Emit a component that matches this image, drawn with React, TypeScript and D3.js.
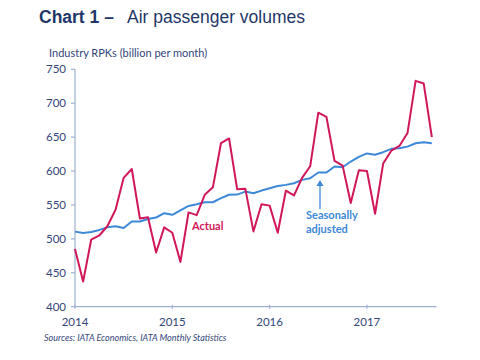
import React from "react";
import * as d3 from "d3";

const yearTicks = ["2014", "2015", "2016", "2017"];
const yTicks = [400, 450, 500, 550, 600, 650, 700, 750];

const actual = [
  485, 437, 499, 505, 519, 543, 590, 603, 530, 532, 480, 517,
  509, 466, 539, 535, 565, 576, 641, 648, 573, 574, 511, 551,
  549, 509, 571, 564, 590, 607, 686, 680, 615, 608, 553, 601,
  600, 537, 611, 630, 637, 656, 733, 729, 650,
];

const seasonallyAdjusted = [
  510.7, 508.7, 510, 513.2, 517, 518.6, 516, 525.5, 525.5, 529.4, 531.5, 537.8,
  535.5, 542, 548.6, 551, 554, 554, 560, 565, 565.3, 569.7, 567.3, 571.2,
  574.7, 578, 579.6, 582, 587, 589.4, 597.8, 597.8, 606.6, 605.6, 614, 621,
  626, 624, 627.8, 632.7, 633.7, 636, 641, 642.5, 641,
];

const NAVY = "#1f3768";
const LABEL = "#33467a";
const AXIS = "#9fb0d2";
const RED = "#d0175a";
const BLUE = "#3d89d8";
const FONT = "Lato, 'Open Sans', sans-serif";

export default function App() {
  const W = 480;
  const H = 360;
  const x = d3.scaleLinear().domain([0, 44.6]).range([75, 436.7]);
  const y = d3.scaleLinear().domain([400, 750]).range([306.7, 69.3]);

  const line = d3
    .line<number>()
    .x((_, i) => x(i))
    .y((d) => y(d));

  return (
    <svg
      width={W}
      height={H}
      style={{ position: "absolute", left: 0, top: 0, background: "#fff" }}
    >
      <text x={39} y={23} fontFamily="Arial, 'Liberation Sans', sans-serif" fontSize={17.5} fill={NAVY}>
        <tspan fontWeight="bold">Chart 1 –</tspan>
        <tspan x={127}>Air passenger volumes</tspan>
      </text>
      <text x={49} y={57} fontFamily={FONT} fontSize={11} fill={LABEL}>
        Industry RPKs (billion per month)
      </text>

      {/* y axis */}
      <line x1={x(0)} x2={x(0)} y1={y(750)} y2={y(400)} stroke={AXIS} strokeWidth={1.2} />
      {yTicks.map((t) => (
        <g key={t}>
          <line x1={x(0) - 4} x2={x(0)} y1={y(t)} y2={y(t)} stroke={AXIS} strokeWidth={1.2} />
          <text
            x={66}
            y={y(t)}
            dy="0.35em"
            textAnchor="end"
            fontFamily={FONT}
            fontSize={11.5}
            fill={LABEL}
          >
            {t}
          </text>
        </g>
      ))}

      {/* x axis */}
      <line x1={x(0)} x2={x(44.6)} y1={y(400)} y2={y(400)} stroke={AXIS} strokeWidth={1.2} />
      {yearTicks.map((t, i) => (
        <g key={t}>
          <line
            x1={x(i * 12)}
            x2={x(i * 12)}
            y1={y(400) - 2}
            y2={y(400) + 2}
            stroke={AXIS}
            strokeWidth={1.2}
          />
          <text
            x={x(i * 12)}
            y={322}
            dy="0.35em"
            textAnchor="middle"
            fontFamily={FONT}
            fontSize={11.5}
            fill={LABEL}
          >
            {t}
          </text>
        </g>
      ))}

      <path d={line(seasonallyAdjusted) || ""} fill="none" stroke={BLUE} strokeWidth={2} strokeLinejoin="round" />
      <path d={line(actual) || ""} fill="none" stroke={RED} strokeWidth={2} strokeLinejoin="round" />

      <text x={192} y={226} dy="0.35em" fontFamily={FONT} fontSize={11} fontWeight="bold" fill={RED}>
        Actual
      </text>

      {/* arrow */}
      <line x1={320} x2={320} y1={209} y2={183} stroke={BLUE} strokeWidth={1.3} />
      <path d="M316.5,186 L320,180 L323.5,186 Z" fill={BLUE} />
      <text x={306} y={215} dy="0.35em" fontFamily={FONT} fontSize={11} fontWeight="bold" fill={BLUE}>
        Seasonally
      </text>
      <text x={306} y={229} dy="0.35em" fontFamily={FONT} fontSize={11} fontWeight="bold" fill={BLUE}>
        adjusted
      </text>

      <text x={44} y={338} dy="0.35em" fontFamily={FONT} fontSize={9} fontStyle="italic" fill={LABEL}>
        Sources: IATA Economics, IATA Monthly Statistics
      </text>
    </svg>
  );
}
